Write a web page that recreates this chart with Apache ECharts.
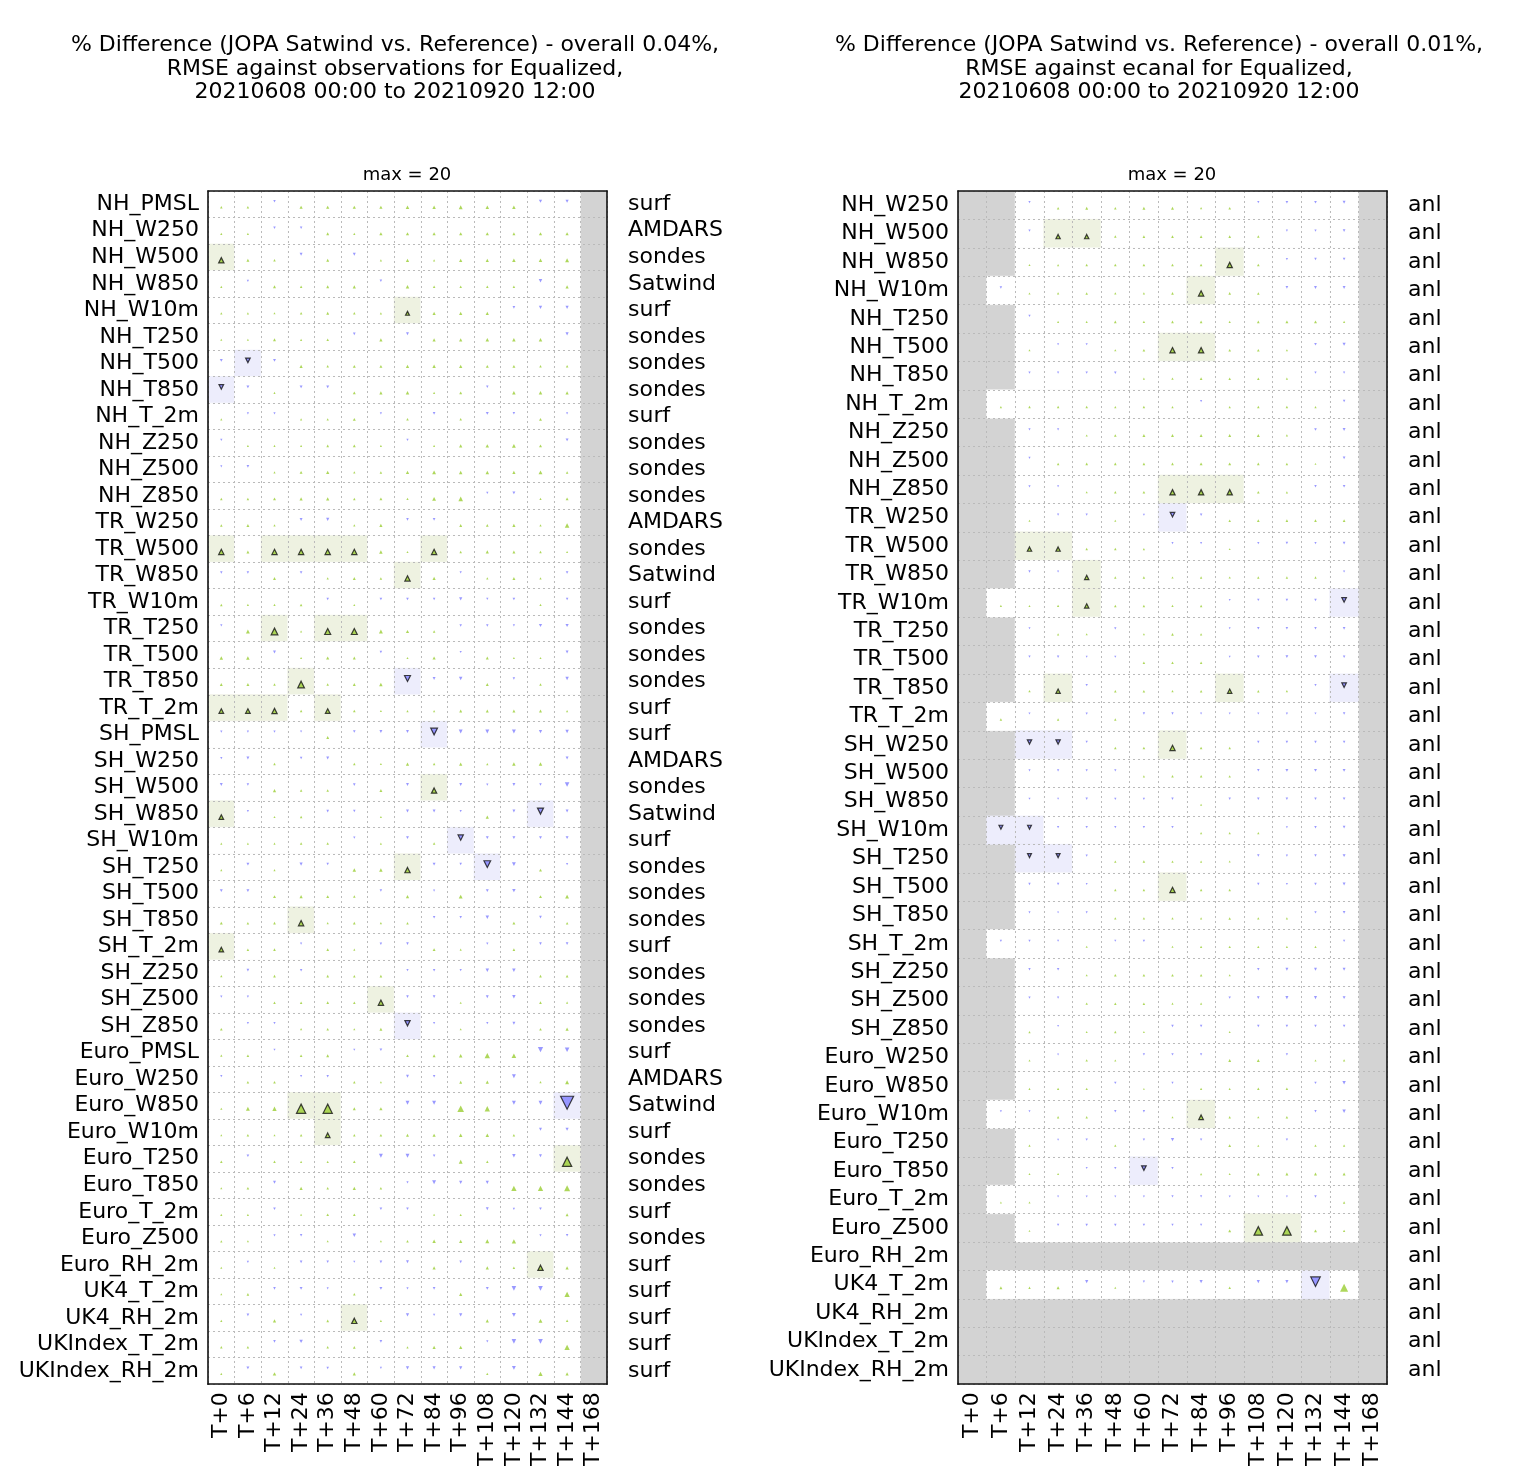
<!DOCTYPE html>
<html>
<head>
<meta charset="utf-8">
<script src="https://cdn.jsdelivr.net/npm/echarts@6/dist/echarts.min.js"></script>
<style>
  html, body { margin: 0; padding: 0; background: #fff; }
  #chart { width: 1525px; height: 1469px; }
</style>
</head>
<body>
<div id="chart"></div>
<script>
// lead times along the x axis
const timeSteps = ['T+0', 'T+6', 'T+12', 'T+24', 'T+36', 'T+48', 'T+60', 'T+72',
  'T+84', 'T+96', 'T+108', 'T+120', 'T+132', 'T+144', 'T+168'];

// ---- left panel: against observations ----
const leftRows = ['NH_PMSL', 'NH_W250', 'NH_W500', 'NH_W850', 'NH_W10m', 'NH_T250', 'NH_T500', 'NH_T850',
  'NH_T_2m', 'NH_Z250', 'NH_Z500', 'NH_Z850', 'TR_W250', 'TR_W500', 'TR_W850', 'TR_W10m', 'TR_T250',
  'TR_T500', 'TR_T850', 'TR_T_2m', 'SH_PMSL', 'SH_W250', 'SH_W500', 'SH_W850', 'SH_W10m', 'SH_T250',
  'SH_T500', 'SH_T850', 'SH_T_2m', 'SH_Z250', 'SH_Z500', 'SH_Z850', 'Euro_PMSL', 'Euro_W250',
  'Euro_W850', 'Euro_W10m', 'Euro_T250', 'Euro_T850', 'Euro_T_2m', 'Euro_Z500', 'Euro_RH_2m',
  'UK4_T_2m', 'UK4_RH_2m', 'UKIndex_T_2m', 'UKIndex_RH_2m'];

const leftObs = ['surf', 'AMDARS', 'sondes', 'Satwind', 'surf', 'sondes', 'sondes', 'sondes', 'surf',
  'sondes', 'sondes', 'sondes', 'AMDARS', 'sondes', 'Satwind', 'surf', 'sondes', 'sondes', 'sondes',
  'surf', 'surf', 'AMDARS', 'sondes', 'Satwind', 'surf', 'sondes', 'sondes', 'sondes', 'surf',
  'sondes', 'sondes', 'sondes', 'surf', 'AMDARS', 'Satwind', 'surf', 'sondes', 'sondes', 'surf',
  'sondes', 'surf', 'surf', 'surf', 'surf', 'surf'];

// % difference per row / lead time (null = no data)
const leftValues = [
  [0.5, 0.5, -0.5, 1, 1, 1, 1, 1.2, 1.2, 1.5, 1.2, 1.2, -1, -1, null],
  [0.3, 0.3, -0.5, -0.5, 0.8, 0.3, 1, 1, 1, 1, 1, 0.8, 1, 1, null],
  [2.5, 0.8, 0.5, -0.8, 0.8, -0.8, 0.3, 1, 0.3, 1, 1, 1.2, 1.2, 1.5, null],
  [0.3, -0.3, 0.8, 0.5, 0.8, 1, -0.5, 1.2, 0.5, 0.5, 0.5, 0.5, -1.2, 1, null],
  [0.3, 0.3, 0.2, 0.5, 0.8, 0.5, 0.3, 1.5, 1, 1, 1, -0.6, -1, -1, null],
  [0.2, 0.2, 0.8, 0.3, 0.5, -0.6, 1, -0.8, 1, 1, 1.2, 1.2, 1.2, -1, null],
  [-0.8, -2, -0.8, 1, 0.5, 0.8, 0.8, 1, 1.2, 1, 0.8, 0.8, 0.5, 0.5, null],
  [-2, -0.8, 0.2, -0.8, -0.8, 0.8, 1, 1.2, 0.3, 0.8, -0.5, 1.2, 1.2, 1, null],
  [0.2, -0.3, -0.3, 0.3, 0.3, 0.8, -0.3, 0.5, -0.6, 0.5, -0.8, -0.5, 0.8, -0.2, null],
  [-0.3, 0.2, 0.2, 0.2, 0.6, 0.8, 0.2, -0.3, 0.2, 1, 1.2, 1.5, 0.8, -0.8, null],
  [-0.2, -0.6, 0.2, 0.8, 1, 0.3, 0.5, 1, 1.5, 1.2, 1.2, 1, 1.5, 0.5, null],
  [0.5, 0.5, 0.8, 1, 1, 0.5, 0.8, 0.3, 1.5, 2, -0.3, -0.8, 0.3, 0.8, null],
  [0.5, 0.8, 0.3, -0.8, -1, 0.3, 1, -0.6, -0.6, 0.8, 0.6, 1, 0.3, 2, null],
  [2.5, 0.8, 2.5, 2.5, 2.5, 2.5, 1.2, 0.2, 2.5, 0.5, 1, 0.8, 0.5, 0.2, null],
  [-0.5, -0.5, 0.8, -0.6, 0.3, 0.8, 0.5, 2.5, 1, -0.3, 0.3, 0.8, 0.3, -0.6, null],
  [0.5, 0.3, 0.3, 0.6, -0.5, 0.2, -0.6, -0.6, -0.5, -1, -0.3, -0.6, 0.3, -0.5, null],
  [-0.3, 1.5, 3.5, 0.2, 3, 3, 1.5, 1, 0.5, -0.5, -0.5, -0.3, -1, -1, null],
  [1.2, 1.2, -0.8, 0.2, 1, 0.8, -0.5, 0.2, 1, -0.3, 0.8, 0.2, 0.2, -0.8, null],
  [0.8, 0.8, 0.5, 3.5, 0.5, 0.8, 1.2, -3, -0.8, -1.2, 0.8, -0.5, 0.5, -1.2, null],
  [2, 2, 2.5, 0.5, 2, 0.6, 0.2, 0.3, 0.3, 0.8, 0.8, 0.8, 0.8, 0.3, null],
  [-0.3, -0.3, -0.3, -0.2, 0.8, -0.6, -0.8, -0.8, -3.5, -1.5, -1.5, -1.5, -1, -1.2, null],
  [-0.3, -0.8, 0.5, -0.5, -0.8, 0.5, 0.2, 1, 0.5, 1, 0.3, 1.2, 1.2, -0.8, null],
  [-0.8, -0.5, 1, 0.5, 0.5, -0.6, 0.8, -0.8, 2.5, -0.8, -0.3, -0.8, -0.5, -2, null],
  [2, -0.3, 0.2, 0.5, -0.6, -0.5, 0.2, -0.8, -0.8, -0.3, 1, -0.8, -3, -0.8, null],
  [0.2, 0.2, 0.2, 0.5, 0.5, -0.3, 0.2, -0.8, 0.5, -2.5, -0.8, -0.8, -0.8, -0.8, null],
  [0.2, -0.8, 0.2, -1, -0.5, 1.2, 1.2, 2.5, -0.8, -0.5, -3.5, -1.5, 0.8, -0.3, null],
  [-0.8, -0.8, 0.8, 1, 0.8, 0.5, -0.5, 1, -0.2, 1.5, -0.8, -1.2, 0.8, 1.5, null],
  [0.8, 0.5, 0.6, 2.5, 0.2, 0.6, 0.3, 0.5, -0.5, -0.5, -1.2, 0.8, -0.6, 0.5, null],
  [2, 0.5, 0.6, -0.3, 0.6, 0.2, -0.5, -0.6, 0.8, 0.2, -0.3, 0.6, -0.6, -0.6, null],
  [0.3, -0.6, 0.6, -0.5, 0.6, 0.5, 0.6, -0.3, -0.5, -0.3, -1.2, -1.2, 0.6, 0.6, null],
  [-0.3, -0.3, 0.5, 0.5, 0.6, 0.5, 2.5, -0.6, -0.6, 0.2, -0.8, -1.2, 0.6, 0.3, null],
  [0.6, -0.3, -0.3, 0.3, 0.5, 0.2, 0.8, -2.5, -0.3, 0.2, -0.3, -0.8, 0.6, 1, null],
  [0.3, 0.6, -0.2, 0.6, 0.8, -0.2, -0.6, 0.6, 0.8, 1.2, 2.5, 2, -2.5, -2, null],
  [-0.3, 0.5, 0.6, -0.3, -0.5, 0.5, 0.2, -0.8, -0.5, 0.8, 1, -1.5, 0.3, 1.5, null],
  [0.3, 1.5, 1.8, 5.3, 5.3, 0.8, 1, -1.5, -1.5, 3.5, 2.5, -1.5, -1.5, -8, null],
  [0.1, 0.5, 0.1, 0.5, 2, 0.5, 0.6, 0.8, 1, 1.2, 1.2, 0.5, -0.8, -1, null],
  [0.5, -0.6, 0.5, 0.3, 0.3, 0.6, -1.5, -1.5, -0.5, 1.5, 0.5, -1.2, -0.8, 5.3, null],
  [0.2, 0.6, -0.8, 1, 0.5, 1, 0.5, -0.3, -1.5, -1, -1, 2.5, 2.5, 3, null],
  [0.3, 0.3, -0.6, 0.2, 0.6, 0.6, -0.6, -0.6, 0.2, 0.3, -0.8, -0.3, -0.6, 0.8, null],
  [0.3, 0.2, -0.3, -0.5, 0.2, -1.2, 0.2, 0.5, 1.2, 1, 1.5, 1.8, -0.3, -0.5, null],
  [0.2, -0.3, 0.2, -0.6, -0.5, -0.2, -0.6, -0.8, 1, -0.6, 1, 0.5, 2.5, 1, null],
  [0.1, 0.6, -0.6, -0.8, -0.2, 0.5, -0.8, -0.3, -0.6, 1, -0.8, -2, -2, 2.5, null],
  [0.3, -0.6, 1, -0.3, 0.6, 2.5, 0.3, -1, -0.3, -1, 1, -1.5, 1.5, 0.5, null],
  [0.5, 0.5, -0.6, -1.2, 0.5, 0.6, -0.6, 0.3, 1, 1, -0.3, -2, -2, 2.5, null],
  [0.2, -0.8, 1.2, -0.6, -0.5, 1, -0.2, -1, -1, -1, 0.4, -1.5, 1.8, 1, null]
];

// significant cells [row, lead time index]
const leftSig = [[2, 0], [4, 7], [6, 1], [7, 0], [13, 0], [13, 2], [13, 3], [13, 4], [13, 5], [13, 8],
  [14, 7], [16, 2], [16, 4], [16, 5], [18, 3], [18, 7], [19, 0], [19, 1], [19, 2], [19, 4], [20, 8],
  [22, 8], [23, 0], [23, 12], [24, 9], [25, 7], [25, 10], [27, 3], [28, 0], [30, 6], [31, 7],
  [34, 3], [34, 4], [34, 13], [35, 4], [36, 13], [40, 12], [42, 5]];

// ---- right panel: against ecanal ----
const rightRows = ['NH_W250', 'NH_W500', 'NH_W850', 'NH_W10m', 'NH_T250', 'NH_T500', 'NH_T850', 'NH_T_2m',
  'NH_Z250', 'NH_Z500', 'NH_Z850', 'TR_W250', 'TR_W500', 'TR_W850', 'TR_W10m', 'TR_T250', 'TR_T500',
  'TR_T850', 'TR_T_2m', 'SH_W250', 'SH_W500', 'SH_W850', 'SH_W10m', 'SH_T250', 'SH_T500', 'SH_T850',
  'SH_T_2m', 'SH_Z250', 'SH_Z500', 'SH_Z850', 'Euro_W250', 'Euro_W850', 'Euro_W10m', 'Euro_T250',
  'Euro_T850', 'Euro_T_2m', 'Euro_Z500', 'Euro_RH_2m', 'UK4_T_2m', 'UK4_RH_2m', 'UKIndex_T_2m',
  'UKIndex_RH_2m'];

const rightObs = 'anl';

const rightValues = [
  [null, null, -0.3, 0.5, 0.8, 0.5, 0.8, 0.8, 0.3, 0.6, -0.3, -0.6, -0.6, -0.8, null],
  [null, null, -0.3, 1.8, 1.8, 0.5, 0.6, 0.6, 0.6, 0.6, 0.5, -0.2, -0.3, -0.6, null],
  [null, null, 0.2, 0.3, 0.5, 0.6, 0.6, 0.6, 0.6, 2.5, 0.6, -0.3, -0.5, -0.6, null],
  [null, -0.5, 0.2, 0.4, 0.5, 0.3, 0.3, 0.6, 2.5, 0.6, 0.5, -0.6, -0.8, -0.8, null],
  [null, null, -0.3, 0.2, 0.2, 0.6, 0.4, 0.6, 0.6, 0.3, 0.6, 0.8, 0.8, 0.3, null],
  [null, null, 0.2, -0.2, -0.3, 0.3, 0.6, 2.5, 2.5, 0.6, 0.6, 0.3, -0.6, -1, null],
  [null, null, -0.3, -0.3, -0.4, -0.5, 0.2, 0.4, 0.6, 0.5, 0.5, 0.3, -0.3, -0.3, null],
  [null, 0.3, 0.5, 0.5, 0.5, 0.3, 0.5, 0.3, -0.3, 0.3, 0.5, 0.5, 0.3, -0.5, null],
  [null, null, -0.3, -0.3, 0.2, 0.6, 0.8, 0.8, 0.8, 0.8, 0.8, 0.3, -0.6, -0.8, null],
  [null, null, -0.2, 0.5, 0.6, 0.6, 0.6, 0.6, 0.8, 0.8, 0.6, 0.5, 0.1, -0.6, null],
  [null, null, -0.3, -0.2, 0.2, 0.5, 0.6, 2.5, 2.5, 2.5, 0.6, 0.3, -0.5, -0.6, null],
  [null, null, 0.2, -0.3, -0.3, 0.2, -0.2, -2, -0.5, 0.5, 0.6, 0.6, 0.6, 0.6, null],
  [null, null, 1.8, 1.8, 0.5, 0.5, 0.3, -0.2, -0.2, 0.1, -0.3, -0.5, -0.3, -0.6, null],
  [null, null, -0.4, -0.2, 1.8, 0.4, 0.5, 0.3, 0.4, 0.3, 0.4, 0.4, 0.4, -0.3, null],
  [null, 0.3, 0.2, 0.4, 1.8, 0.5, 0.5, 0.3, 0.5, -0.1, -0.4, -0.5, -0.5, -2, null],
  [null, null, -0.2, 0.3, 0.2, -0.4, 0.2, 0.6, 0.4, -0.1, -0.5, -0.5, -0.5, -0.6, null],
  [null, null, -0.3, -0.4, -0.1, -0.2, 0.5, 0.5, 0.5, -0.1, -0.5, -0.7, -0.7, -0.5, null],
  [null, null, 0.4, 1.8, -0.4, 0.5, 0.5, 0.3, 0.5, 1.8, 0.5, 0.3, -0.3, -2, null],
  [null, 0.5, -0.2, 0.4, -0.3, 0.4, -0.4, -0.4, -0.2, -0.1, -0.2, -0.3, -0.2, -0.5, null],
  [null, null, -1.8, -1.8, -0.3, 0.5, 0.6, 2.5, 0.6, 0.4, -0.4, -0.5, -0.5, -0.5, null],
  [null, null, -0.2, -0.4, -0.3, -0.3, 0.3, 0.5, 0.5, 0.4, -0.5, -0.8, -0.8, -0.8, null],
  [null, null, -0.2, -0.1, -0.4, -0.3, -0.3, -0.4, 0.2, -0.4, -0.5, -0.5, -0.5, -0.6, null],
  [null, -1.5, -1.5, -0.4, -0.4, -0.3, -0.4, -0.4, 0.3, 0.3, 0.3, -0.2, -0.5, -0.6, null],
  [null, null, -1.5, -1.5, -0.3, 0.4, 0.5, 0.3, 0.2, 0.1, -0.5, -0.3, -0.5, -0.8, null],
  [null, null, -0.4, -0.4, -0.1, 0.4, 0.5, 2.5, 0.5, 0.5, -0.4, -0.2, -0.5, -0.8, null],
  [null, null, -0.2, -0.1, -0.2, 0.4, 0.4, 0.3, 0.3, 0.5, 0.4, 0.3, -0.4, -0.6, null],
  [null, -0.3, -0.3, -0.2, 0.2, -0.2, -0.4, 0.2, 0.4, 0.4, 0.4, 0.3, 0.3, -0.3, null],
  [null, null, -0.4, -0.5, 0.2, 0.6, 0.6, 0.6, 0.5, 0.2, -0.5, -0.8, -0.8, -0.8, null],
  [null, null, -0.3, -0.3, 0.4, 0.5, 0.5, 0.2, 0.3, -0.4, -0.6, -0.9, -0.9, -0.8, null],
  [null, null, 0.3, -0.1, 0.1, 0.4, 0.1, -0.5, -0.5, 0.1, -0.5, -0.5, -0.5, -0.5, null],
  [null, null, 0.1, -0.1, 0.4, 0.2, -0.4, -0.4, -0.4, 0.8, 0.8, -0.4, 0.1, 0.4, null],
  [null, null, 0.2, 0.4, 0.4, -0.4, 0.1, -0.2, 0.4, 0.2, 0.5, 0.5, -0.4, -1.2, null],
  [null, -0.3, -0.2, 0.4, 0.4, -0.4, -0.4, 0.1, 2, 0.4, 0.3, 0.5, -0.4, -1.2, null],
  [null, null, 0.3, -0.1, -0.4, 0.4, -0.4, -1, -0.4, 0.7, 0.2, -0.4, 0.4, 0.4, null],
  [null, null, 0.1, 0.2, -0.2, -0.4, -2, -0.4, 0.3, 0.1, 0.7, 0.8, 0.8, 0.8, null],
  [null, 0.1, 0.1, -0.1, -0.2, -0.1, -0.2, -0.3, -0.3, -0.2, -0.1, -0.1, -0.5, 0.4, null],
  [null, null, 0.1, -0.4, -0.5, -0.5, -0.4, -0.3, -0.3, 0.8, 4.8, 4.8, 0.8, 0.4, null],
  [null, null, null, null, null, null, null, null, null, null, null, null, null, null, null],
  [null, 0.8, 0.4, 0.9, -1, 0.2, -0.3, -0.4, -1, 0.5, -1, -1, -5.5, 4.5, null],
  [null, null, null, null, null, null, null, null, null, null, null, null, null, null, null],
  [null, null, null, null, null, null, null, null, null, null, null, null, null, null, null],
  [null, null, null, null, null, null, null, null, null, null, null, null, null, null, null]
];

const rightSig = [[1, 3], [1, 4], [2, 9], [3, 8], [5, 7], [5, 8], [10, 7], [10, 8], [10, 9], [11, 7],
  [12, 2], [12, 3], [13, 4], [14, 4], [14, 13], [17, 3], [17, 9], [17, 13], [19, 2], [19, 3], [19, 7],
  [22, 1], [22, 2], [23, 2], [23, 3], [24, 7], [32, 8], [34, 6], [36, 10], [36, 11], [38, 12]];

const leftTitle = '% Difference (JOPA Satwind vs. Reference) - overall 0.04%,\nRMSE against observations for Equalized,\n20210608 00:00 to 20210920 12:00';
const rightTitle = '% Difference (JOPA Satwind vs. Reference) - overall 0.01%,\nRMSE against ecanal for Equalized,\n20210608 00:00 to 20210920 12:00';

const FONT = 'DejaVu Sans';
const UP_COLOR = '#9acd32';
const DOWN_COLOR = '#7f7fff';
const GREY = '#d3d3d3';

// split the table into cell backgrounds and the two triangle series
function buildData(values, sig) {
  const cells = [], ups = [], downs = [];
  values.forEach((row, r) => {
    row.forEach((v, c) => {
      if (v === null) return;
      const isSig = sig.some(p => p[0] === r && p[1] === c);
      cells.push([c, r, isSig ? (v > 0 ? 1 : 2) : 0]);
      const item = { value: [c, r, v] };
      if (isSig) item.itemStyle = { borderColor: '#111', borderWidth: 1.2 };
      (v > 0 ? ups : downs).push(item);
    });
  });
  return { cells, ups, downs };
}

function renderCell(params, api) {
  const p = api.coord([api.value(0), api.value(1)]);
  const s = api.size([1, 1]);
  const fills = ['#ffffff', '#eef2e1', '#ededfc'];
  const fill = fills[api.value(2)];
  return {
    type: 'rect',
    shape: { x: p[0] - s[0] / 2, y: p[1] - s[1] / 2, width: s[0], height: s[1] },
    style: { fill: fill, stroke: fill, lineWidth: 0.6 }
  };
}

function markSize(val) {
  return 1.8 + Math.abs(val[2]) * 1.4;
}

const left = buildData(leftValues, leftSig);
const right = buildData(rightValues, rightSig);

const dotted = { color: '#bababa', width: 1, type: [2, 3] };
const axisFrame = { show: true, lineStyle: { color: '#111', width: 1.6 } };
const labelFont = { fontFamily: FONT, fontSize: 22, color: '#000' };

function xAxes(gridIndex) {
  return [{
    type: 'category', gridIndex, data: timeSteps, position: 'bottom', z: 5,
    axisLine: axisFrame, axisTick: { show: false },
    axisLabel: Object.assign({ rotate: 90, interval: 0, margin: 8 }, labelFont),
    splitLine: { show: true, interval: 0, lineStyle: dotted }
  }, {
    type: 'category', gridIndex, data: timeSteps, position: 'top', z: 5,
    axisLine: axisFrame, axisTick: { show: false }, axisLabel: { show: false },
    splitLine: { show: false }
  }];
}

function yAxes(gridIndex, rows, obsLabel) {
  return [{
    type: 'category', gridIndex, data: rows, inverse: true, position: 'left', z: 5,
    axisLine: axisFrame, axisTick: { show: false },
    axisLabel: Object.assign({ interval: 0, margin: 9 }, labelFont),
    splitLine: { show: true, interval: 0, lineStyle: dotted }
  }, {
    type: 'category', gridIndex, data: rows, inverse: true, position: 'right', z: 5,
    axisLine: axisFrame, axisTick: { show: false },
    axisLabel: Object.assign({
      interval: 0, margin: 21,
      formatter: (val, idx) => obsLabel(idx)
    }, labelFont),
    splitLine: { show: false }
  }];
}

function panelSeries(data, xIndex, yIndex) {
  return [{
    type: 'custom', xAxisIndex: xIndex, yAxisIndex: yIndex, z: 1,
    renderItem: renderCell, data: data.cells, silent: true
  }, {
    type: 'scatter', xAxisIndex: xIndex, yAxisIndex: yIndex, z: 6,
    symbol: 'triangle', symbolSize: markSize, symbolOffset: [0, 3],
    itemStyle: { color: UP_COLOR }, data: data.ups, silent: true
  }, {
    type: 'scatter', xAxisIndex: xIndex, yAxisIndex: yIndex, z: 6,
    symbol: 'path://M0,0L10,0L5,10Z', symbolSize: markSize, symbolOffset: [0, -3],
    itemStyle: { color: DOWN_COLOR }, data: data.downs, silent: true
  }];
}

const titleStyle = { fontFamily: FONT, fontSize: 22, fontWeight: 'normal', color: '#000', lineHeight: 23.5 };
const maxStyle = { fontFamily: FONT, fontSize: 18, fontWeight: 'normal', color: '#000', lineHeight: 20 };

const option = {
  backgroundColor: '#fff',
  animation: false,
  title: [
    { text: leftTitle, left: 395, top: 34, textAlign: 'center', padding: 0, textStyle: titleStyle },
    { text: rightTitle, left: 1159, top: 34, textAlign: 'center', padding: 0, textStyle: titleStyle },
    { text: 'max = 20', left: 407, top: 165, textAlign: 'center', padding: 0, textStyle: maxStyle },
    { text: 'max = 20', left: 1172, top: 165, textAlign: 'center', padding: 0, textStyle: maxStyle }
  ],
  grid: [
    { left: 208, top: 191, width: 399, height: 1199, show: true, backgroundColor: GREY, borderWidth: 0 },
    { left: 958, top: 191, width: 429, height: 1199, show: true, backgroundColor: GREY, borderWidth: 0 }
  ],
  xAxis: xAxes(0).concat(xAxes(1)),
  yAxis: yAxes(0, leftRows, idx => leftObs[idx]).concat(yAxes(1, rightRows, () => rightObs)),
  series: panelSeries(left, 0, 0).concat(panelSeries(right, 2, 2))
};

const chart = echarts.init(document.getElementById('chart'));
chart.setOption(option);
</script>
</body>
</html>
